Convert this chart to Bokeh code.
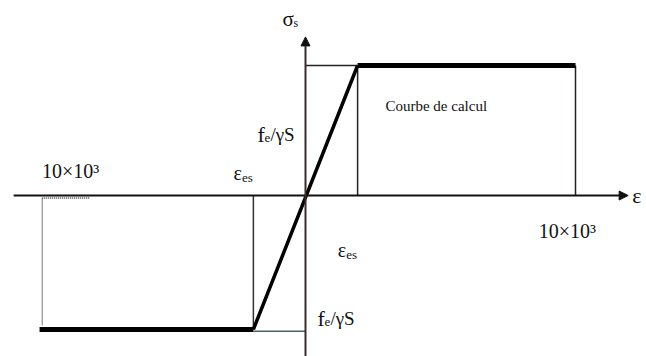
from bokeh.plotting import figure
from bokeh.models import Range1d, Arrow, NormalHead, Label
from bokeh.embed import file_html
from bokeh.resources import INLINE

# ---- data (strain in arbitrary units, stress normalised to fe/γs) ----
eps_es = 1.93          # elastic limit strain (drawn)
eps_lim = 10.0         # ultimate strain 10×10³ (drawn)
eps_lim_neg = -9.85
sig_pos = 1.0          # fe/γs
sig_neg = -1.03        # -fe/γs
curve_strain = [eps_lim_neg, -eps_es, eps_es, eps_lim]
curve_stress = [sig_neg, sig_neg, sig_pos, sig_pos]
tick_label = "10×10³"
curve_label = "Courbe de calcul"

FONT = "Liberation Serif"

W, H = 646, 356
p = figure(width=W, height=H, output_backend="svg", toolbar_location=None,
           x_range=Range1d(-305 / 27, (W - 305) / 27),
           y_range=Range1d((195 - H) / 130, 195 / 130),
           min_border=0, x_axis_location=None, y_axis_location=None)
p.outline_line_color = None
p.xgrid.visible = False
p.ygrid.visible = False
p.background_fill_color = "white"
p.border_fill_color = "white"

# axes with arrows
p.add_layout(Arrow(end=NormalHead(size=9, fill_color="#111", line_color="#111"),
                   x_start=-10.81, y_start=0, x_end=11.95, y_end=0,
                   line_width=2.2, line_color="#111"))
p.add_layout(Arrow(end=NormalHead(size=9, fill_color="#111", line_color="#111"),
                   x_start=0, y_start=-1.26, x_end=0, y_end=1.22,
                   line_width=2, line_color="#3a2c2c"))

# thin guide lines
p.line([0, curve_strain[2]], [sig_pos, sig_pos], line_width=1.3, line_color="#222")
p.line([curve_strain[2], curve_strain[2]], [0, sig_pos], line_width=1.5, line_color="#222")
p.line([eps_lim, eps_lim], [0, sig_pos], line_width=1.5, line_color="#2a1f1f")
p.line([-eps_es, -eps_es], [0, sig_neg], line_width=1.5, line_color="#333")
p.line([eps_lim_neg + 0.1, eps_lim_neg + 0.1], [-0.02, sig_neg + 0.03], line_width=1.3, line_color="#999")
p.line([curve_strain[1], 0], [sig_neg - 0.015, sig_neg - 0.015], line_width=1.5, line_color="#4a6464")
p.line([eps_lim_neg + 0.1, -8.0], [-0.02, -0.02], line_width=1.5, line_color="#444", line_dash="1 1")

# design curve
p.line(curve_strain[0:2], curve_stress[0:2], line_width=5, line_color="black")
p.line(curve_strain[2:4], curve_stress[2:4], line_width=5, line_color="black")
p.line(curve_strain[1:3], curve_stress[1:3], line_width=3.5, line_color="black")


def lab(x, y, text, size, xo=0, yo=0, align="left"):
    p.add_layout(Label(x=x, y=y, text=text, x_offset=xo, y_offset=yo,
                       text_font=FONT, text_font_size=f"{size}px",
                       text_align=align, text_baseline="middle", text_color="#111"))


# tick labels
lab(-8.7, 0.185, tick_label, 20, align="center")
lab(9.7, -0.27, tick_label, 20, align="center")

# ε_es labels
for (x, y) in [(-2.67, 0.17), (1.19, -0.42)]:
    lab(x, y, "ε", 20)
    lab(x, y, "es", 13, xo=8.5, yo=-4)

# fe/γS labels
for (x, y) in [(-1.78, 0.47), (0.44, -0.946)]:
    lab(x, y, "f", 22)
    lab(x, y, "e", 13, xo=7, yo=-4)
    lab(x, y, "/γS", 19, xo=13)

# axis names
lab(-0.85, 1.36, "σ", 21)
lab(-0.85, 1.36, "s", 12, xo=11, yo=-4)
lab(12.1, 0.0, "ε", 22)

lab(2.96, 0.685, curve_label, 15)

open("out.html", "w").write(file_html(p, INLINE))
